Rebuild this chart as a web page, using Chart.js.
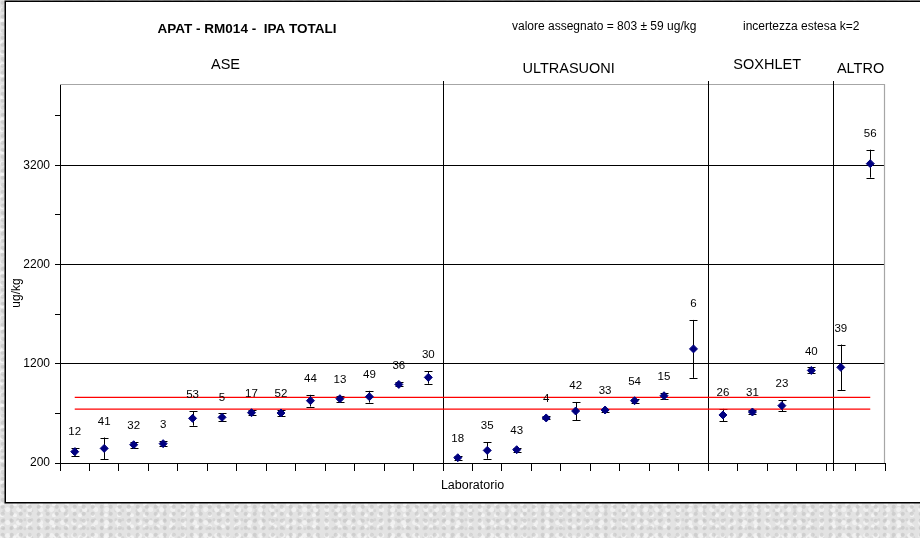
<!DOCTYPE html>
<html>
<head>
<meta charset="utf-8">
<title>APAT - RM014 - IPA TOTALI</title>
<script src="https://cdn.jsdelivr.net/npm/chart.js@4/dist/chart.umd.min.js"></script>
<style>
  html, body { margin: 0; padding: 0; }
  body {
    background-color: #e3e3e3;
    background-image:
      radial-gradient(circle at 30% 40%, rgba(190,190,190,0.55) 0 1.5px, transparent 2.5px),
      radial-gradient(circle at 70% 20%, rgba(245,245,245,0.8) 0 2px, transparent 3px),
      radial-gradient(circle at 55% 75%, rgba(200,200,200,0.5) 0 1px, transparent 2px),
      radial-gradient(circle at 15% 85%, rgba(250,250,250,0.7) 0 1.5px, transparent 2.5px);
    background-size: 9px 7px, 11px 13px, 7px 9px, 13px 11px;
  }
  #wrap { width: 920px; height: 538px; }
</style>
</head>
<body>
<div id="wrap"><canvas id="c" width="920" height="538"></canvas></div>
<script>
// Laboratory codes, in plotting order, grouped by extraction method
const labs = ['12','41','32','3','53','5','17','52','44','13','49','36','30',
              '18','35','43','4','42','33','54','15','6',
              '26','31','23','40',
              '39','56'];
// Reported results (ug/kg)
const results = [314, 347, 384, 395, 650, 660, 707, 704, 828, 848, 868, 992, 1063,
                 253, 327, 334, 654, 724, 734, 828, 878, 1350,
                 684, 714, 778, 1133,
                 1164, 3217];
// Half-width of each error bar (ug/kg)
const uncertainties = [40, 110, 30, 25, 74, 39, 25, 28, 59, 30, 59, 20, 64,
                       20, 84, 20, 15, 91, 15, 20, 32, 292,
                       62, 24, 55, 30,
                       230, 141];
// Method groups and how many labs fall in each
const groupNames = ['ASE', 'ULTRASUONI', 'SOXHLET', 'ALTRO'];
const groupSizes = [13, 9, 4, 2];
// Assigned value and its expanded uncertainty (k=2)
const assignedValue = 803;
const expandedUnc = 59;
// Y axis: labelled ticks and unlabelled minor ticks
const yLabelTicks = [200, 1200, 2200, 3200];
const yMinorTicks = [700, 1700, 2700, 3700];

const upperLimit = labs.map(() => assignedValue + expandedUnc);
const lowerLimit = labs.map(() => assignedValue - expandedUnc);

const FONT = "'Liberation Sans', Arial, sans-serif";
const yAllTicks = yLabelTicks.concat(yMinorTicks).sort((a, b) => a - b);

const decorations = {
  id: 'decorations',
  beforeDraw(chart, args, opts) {
    const ctx = chart.ctx;
    ctx.save();
    // white chart box with dark frame
    ctx.fillStyle = '#ffffff';
    ctx.fillRect(5, 1, 920, 502);
    ctx.strokeStyle = '#000000';
    ctx.lineWidth = 1.5;
    ctx.beginPath();
    ctx.moveTo(921, 1.25);
    ctx.lineTo(5.25, 1.25);
    ctx.lineTo(5.25, 502.75);
    ctx.lineTo(921, 502.75);
    ctx.stroke();

    // headings
    ctx.fillStyle = '#000';
    ctx.textBaseline = 'middle';
    ctx.textAlign = 'center';
    ctx.font = 'bold 13.5px ' + FONT;
    ctx.fillText('APAT - RM014 -  IPA TOTALI', 247, 29);
    ctx.textAlign = 'left';
    ctx.font = '12px ' + FONT;
    ctx.fillText('valore assegnato = ' + assignedValue + ' \u00b1 ' + expandedUnc + ' ug/kg', 512, 27);
    ctx.fillText('incertezza estesa k=2', 743, 27);

    // axis titles
    ctx.textAlign = 'center';
    ctx.font = '12.5px ' + FONT;
    ctx.fillText('Laboratorio', (chart.chartArea.left + chart.chartArea.right) / 2, 486);
    ctx.save();
    ctx.translate(17, 293);
    ctx.rotate(-Math.PI / 2);
    ctx.font = '12px ' + FONT;
    ctx.fillText('ug/kg', 0, 0);
    ctx.restore();

    // method group headings
    const x = chart.scales.x;
    ctx.font = '14.5px ' + FONT;
    let start = 0;
    groupSizes.forEach((n, i) => {
      const mid = (x.getPixelForValue(start) + x.getPixelForValue(start + n - 1)) / 2;
      ctx.fillText(groupNames[i], mid + opts.headShift[i], opts.headY[i]);
      start += n;
    });
    ctx.restore();
  },
  beforeDatasetsDraw(chart, args, opts) {
    const ctx = chart.ctx;
    const {left, right, top, bottom} = chart.chartArea;
    const x = chart.scales.x, y = chart.scales.y;
    ctx.save();
    // light frame on the top and right of the plot area
    ctx.strokeStyle = '#a6a6a6';
    ctx.lineWidth = 1.2;
    ctx.beginPath();
    ctx.moveTo(left, top + 0.5);
    ctx.lineTo(right - 0.5, top + 0.5);
    ctx.lineTo(right - 0.5, bottom);
    ctx.stroke();

    // vertical separators between method groups
    ctx.strokeStyle = '#000';
    ctx.lineWidth = 1;
    let start = 0;
    groupSizes.slice(0, -1).forEach((n, i) => {
      start += n;
      const px = Math.round(x.getPixelForValue(start - 0.5) + opts.sepShift[i]) + 0.5;
      ctx.beginPath();
      ctx.moveTo(px, top - 3);
      ctx.lineTo(px, bottom + 8);
      ctx.stroke();
    });

    // error bars
    ctx.lineWidth = 1;
    results.forEach((v, i) => {
      const px = Math.round(x.getPixelForValue(i)) + 0.5;
      const yHi = y.getPixelForValue(v + uncertainties[i]);
      const yLo = y.getPixelForValue(v - uncertainties[i]);
      ctx.beginPath();
      ctx.moveTo(px, yHi);
      ctx.lineTo(px, yLo);
      ctx.moveTo(px - 4, Math.round(yHi) + 0.5);
      ctx.lineTo(px + 4, Math.round(yHi) + 0.5);
      ctx.moveTo(px - 4, Math.round(yLo) + 0.5);
      ctx.lineTo(px + 4, Math.round(yLo) + 0.5);
      ctx.stroke();
    });
    ctx.restore();
  },
  afterDatasetsDraw(chart) {
    const ctx = chart.ctx;
    const x = chart.scales.x, y = chart.scales.y;
    ctx.save();
    ctx.fillStyle = '#000';
    ctx.font = '11.5px ' + FONT;
    ctx.textAlign = 'center';
    ctx.textBaseline = 'middle';
    results.forEach((v, i) => {
      const px = x.getPixelForValue(i);
      const py = y.getPixelForValue(v);
      const barTop = y.getPixelForValue(v + uncertainties[i]);
      ctx.fillText(labs[i], px, Math.min(py - 19, barTop - 16));
    });
    ctx.restore();
  }
};

new Chart(document.getElementById('c'), {
  type: 'line',
  data: {
    labels: labs,
    datasets: [
      {
        label: 'Risultati',
        data: results,
        showLine: false,
        pointStyle: 'rectRot',
        pointRadius: 4,
        pointHoverRadius: 4,
        backgroundColor: '#000080',
        borderColor: '#000080',
        borderWidth: 1
      },
      {
        label: 'Limite superiore',
        data: upperLimit,
        borderColor: '#ff0000',
        borderWidth: 1.3,
        pointRadius: 0,
        fill: false
      },
      {
        label: 'Limite inferiore',
        data: lowerLimit,
        borderColor: '#ff0000',
        borderWidth: 1.3,
        pointRadius: 0,
        fill: false
      }
    ]
  },
  options: {
    responsive: false,
    animation: false,
    events: [],
    layout: { padding: { left: 0, right: 35, top: 84, bottom: 0 } },
    plugins: {
      legend: { display: false },
      tooltip: { enabled: false },
      decorations: {
        headShift: [-26, -7, 0, 5],
        headY: [65, 69, 65, 69],
        sepShift: [0, 0, 7]
      }
    },
    scales: {
      x: {
        type: 'category',
        offset: true,
        afterFit: s => { s.height = 75; },
        border: { display: true, color: '#000', width: 1 },
        grid: {
          offset: true,
          drawOnChartArea: false,
          drawTicks: true,
          tickLength: 8,
          tickColor: '#000',
          color: '#000'
        },
        ticks: { autoSkip: false, callback: () => '', maxRotation: 0 }
      },
      y: {
        min: 200,
        max: 4020,
        afterFit: s => { s.width = 60; },
        afterBuildTicks: s => { s.ticks = yAllTicks.map(v => ({ value: v })); },
        border: { display: true, color: '#000', width: 1 },
        grid: {
          color: c => (c.tick && yLabelTicks.includes(c.tick.value) && c.tick.value !== yLabelTicks[0]) ? '#000' : 'rgba(0,0,0,0)',
          tickColor: '#000',
          tickLength: 5
        },
        ticks: {
          autoSkip: false,
          padding: 5,
          color: '#000',
          font: { family: FONT, size: 12 },
          callback: v => yLabelTicks.includes(v) ? String(v) : ''
        }
      }
    }
  },
  plugins: [decorations]
});
</script>
</body>
</html>
